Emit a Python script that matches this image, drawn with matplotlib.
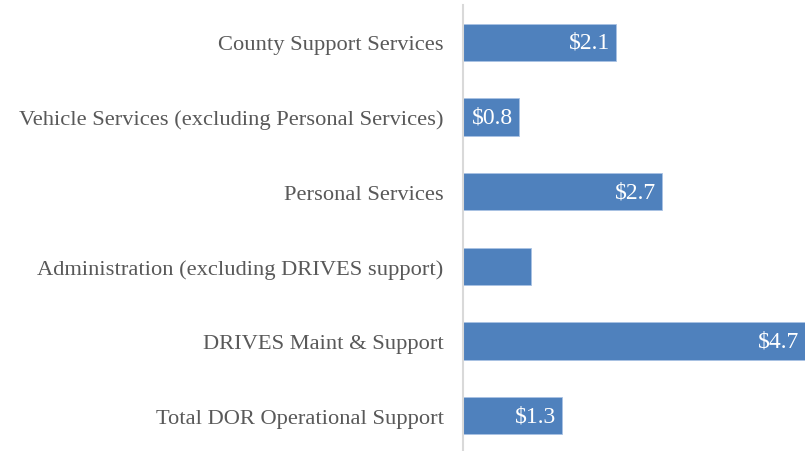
import matplotlib
matplotlib.use("Agg")
import matplotlib.pyplot as plt

categories = [
    "County Support Services",
    "Vehicle Services (excluding Personal Services)",
    "Personal Services",
    "Administration (excluding DRIVES support)",
    "DRIVES Maint & Support",
    "Total DOR Operational Support",
]
values = [2.07, 0.76, 2.70, 0.92, 4.68, 1.34]
value_labels = ["$2.1", "$0.8", "$2.7", "", "$4.7", "$1.3"]

W, H = 805, 452
fig = plt.figure(figsize=(W / 100, H / 100), dpi=100)
plt.rcParams["font.family"] = ["Liberation Serif", "DejaVu Serif"]

left_px, right_px = 463, 805
top_px, bottom_px = 6, 454
ax = fig.add_axes([left_px / W, 1 - bottom_px / H, (right_px - left_px) / W, (bottom_px - top_px) / H])

bar_color = "#4F81BD"
y = list(range(len(categories)))
ax.barh(y, values, height=0.5, color=bar_color, edgecolor="#A9C2E4", linewidth=0.6, zorder=2)
xmax = (right_px - left_px) / 73.8
ax.set_xlim(0, xmax)
ax.set_ylim(len(categories) - 0.5, -0.5)

ax.set_yticks(y)
ax.set_yticklabels(categories, fontsize=16.2, color="#595959")
ax.tick_params(axis="y", length=0, pad=14)
ax.set_xticks([])

for s in ["top", "right", "bottom"]:
    ax.spines[s].set_visible(False)
ax.spines["left"].set_color("#D9D9D9")
ax.spines["left"].set_linewidth(1.5)
ax.spines["left"].set_zorder(3)

for yi, v, lab in zip(y, values, value_labels):
    if lab:
        xe = min(v, xmax)
        ax.text(xe - 0.08, yi, lab, ha="right", va="center", color="white", fontsize=17, zorder=4)

fig.savefig("out.png", dpi=100)
